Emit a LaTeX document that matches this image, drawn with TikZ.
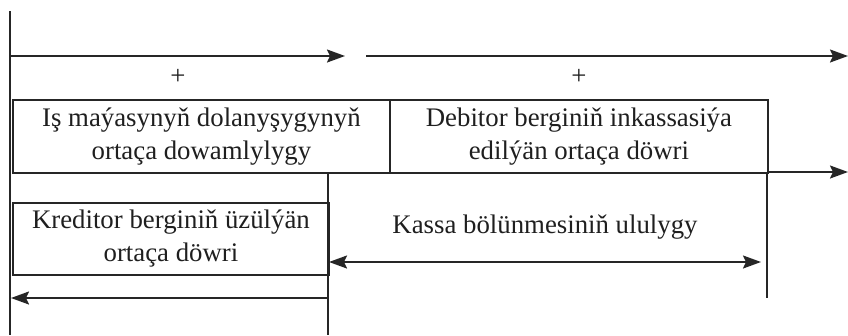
\documentclass[tikz,border=0pt]{standalone}
\usepackage{fontspec}
\setmainfont{Liberation Serif}
\usetikzlibrary{arrows.meta}
\begin{document}
\begin{tikzpicture}[x=1pt,y=-1pt,
  every node/.style={font=\fontsize{26.8}{33}\selectfont, text=black!88},
  ln/.style={line width=1.9pt, draw=black!85},
  tip/.tip={Stealth[length=18pt,width=13pt,inset=3pt]},
  box/.style={ln, draw, rectangle, align=center, anchor=north west, inner sep=0pt},
  arr/.style={ln, -tip},
  darr/.style={ln, tip-tip}]
\useasboundingbox (0,0) rectangle (848,335);
% boxes
\node[box, minimum width=377pt, minimum height=73pt] (b1) at (12,99) {\raisebox{-3pt}{\parbox{370pt}{\centering Iş maýasynyň dolanyşygynyň\\ortaça dowamlylygy}}};
\node[box, minimum width=378pt, minimum height=73pt] (b2) at (389,99) {\raisebox{-3pt}{\parbox{370pt}{\centering Debitor berginiň inkassasiýa\\edilýän ortaça döwri}}};
\node[box, minimum width=316pt, minimum height=72pt] (b3) at (12,202) {\raisebox{-3pt}{\parbox{310pt}{\centering Kreditor berginiň üzülýän\\ortaça döwri}}};
% labels
\node (p1) at (178,77) {+};
\node (p2) at (579,77) {+};
\node (k) at (545,227) {Kassa bölünmesiniň ululygy};
% coordinates
\coordinate (lt) at (10,11);
\coordinate (lb) at (10,335);
\coordinate (a1s) at (10,56);
\coordinate (a1e) at (345,56);
\coordinate (a2s) at (366,56);
\coordinate (a2e) at (848,56);
\coordinate (mt) at (328,172);
\coordinate (mb) at (328,335);
\coordinate (rt) at (767,172);
\coordinate (rb) at (767,298);
\coordinate (r3e) at (848,172);
\coordinate (ks) at (329,262);
\coordinate (ke) at (761,262);
\coordinate (bs) at (328,298);
\coordinate (be) at (11,298);
% lines
\draw[ln] (lt) -- (lb);
\draw[ln] (mt) -- (mb);
\draw[ln] (rt) -- (rb);
\draw[arr] (a1s) -- (a1e);
\draw[arr] (a2s) -- (a2e);
\draw[arr] (rt) -- (r3e);
\draw[darr] (ks) -- (ke);
\draw[arr] (bs) -- (be);
\end{tikzpicture}
\end{document}
